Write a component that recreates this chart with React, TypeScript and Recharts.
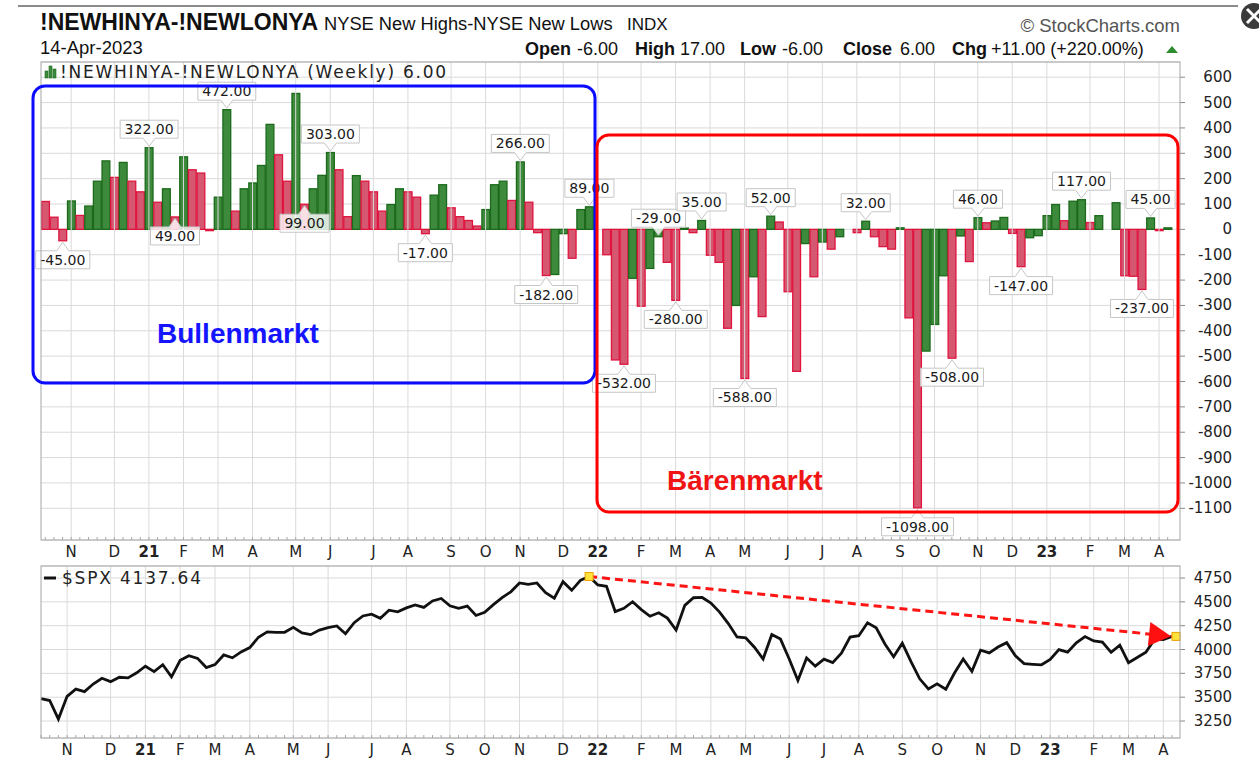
import React from 'react';
import { ComposedChart, Bar, Line, XAxis, YAxis, CartesianGrid, ReferenceLine, LabelList } from 'recharts';

// ---------- DATA ----------
const START = Date.UTC(2020, 9, 16); // first weekly bar (Fri 16-Oct-2020)
const weeks: string[] = Array.from({ length: 131 }, (_, i) =>
  new Date(START + i * 7 * 86400000).toISOString().slice(0, 10)
);

// NYSE New Highs - New Lows, weekly
const netHighsLows = [
  110, 48, -45, 112, 55, 92, 190, 270, 205, 264, 190, 148, 322, 107, 160, 49, 286, 235, 222, -5,
  127, 472, 72, 160, 183, 252, 414, 294, 190, 536, 99, 160, 213, 303, 235, 50, 212, 190, 148, 72,
  98, 160, 148, 127, -17, 135, 176, 85, 50, 35, 13, 78, 176, 190, 114, 266, 107, -13, -182, -178,
  -17, -114, 78, 89, 0, -100, -515, -532, -193, -303, -154, -29, -130, -280, 5, -13, 35, -102, -130, -390,
  -300, -588, -187, -344, 52, 29, -246, -560, -56, -187, -50, -78, -29, 0, -13, 32, -29, -68, -78, 6,
  -349, -1098, -480, -375, -183, -508, -26, -127, 46, 26, 33, 47, -16, -147, -33, -25, 54, 98, 34, 111,
  117, 27, 54, 0, 105, -183, -185, -237, 45, -5, 6,
];

// S&P 500 weekly close
const spx = [
  3484, 3465, 3270, 3509, 3585, 3558, 3638, 3699, 3663, 3709, 3703, 3756,
  3825, 3768, 3841, 3714, 3887, 3935, 3907, 3811, 3842, 3943, 3913, 3975, 4020, 4129, 4185, 4180, 4181,
  4233, 4174, 4156, 4204, 4230, 4247, 4166, 4281, 4352, 4370, 4327, 4412, 4395, 4437, 4468, 4442, 4509,
  4535, 4459, 4433, 4455, 4357, 4391, 4471, 4545, 4605, 4698, 4683, 4698, 4595, 4538, 4712, 4621, 4726, 4766,
  4677, 4663, 4398, 4432, 4501, 4419, 4349, 4385, 4329, 4204, 4463, 4543, 4546, 4488, 4393, 4272, 4132,
  4123, 4024, 3901, 4158, 4109, 3901, 3675, 3912, 3825, 3899, 3863, 3962, 4130, 4145, 4280, 4228, 4058,
  3924, 4067, 3873, 3693, 3586, 3640, 3583, 3753, 3901, 3771, 3993, 3965, 4026, 4072, 3934, 3852, 3845, 3840,
  3895, 3999, 3973, 4071, 4136, 4090, 4079, 3970, 4046, 3862, 3917, 3971, 4109, 4105, 4137.64,
];

const monthTickIdx = [3, 8, 12, 16, 20, 24, 29, 33, 38, 42, 47, 51, 55, 60, 64, 69, 73, 77, 81, 86, 90, 94, 99, 103, 108, 112, 116, 121, 125, 129];
const monthTickLabels = ['N', 'D', '21', 'F', 'M', 'A', 'M', 'J', 'J', 'A', 'S', 'O', 'N', 'D', '22', 'F', 'M', 'A', 'M', 'J', 'J', 'A', 'S', 'O', 'N', 'D', '23', 'F', 'M', 'A'];

const labelAboveIdx = [12, 21, 33, 55, 63, 71, 76, 84, 95, 108, 120, 128];
const labelBelowIdx = [2, 15, 30, 44, 58, 67, 73, 81, 101, 105, 113, 127];

const topTicks = [600, 500, 400, 300, 200, 100, 0, -100, -200, -300, -400, -500, -600, -700, -800, -900, -1000, -1100];
const spxTicks = [4750, 4500, 4250, 4000, 3750, 3500, 3250];
const trendIdx = [63, 130];

const topData = weeks.map((d, i) => ({
  d,
  v: netHighsLows[i],
  up: i > 0 && netHighsLows[i] > netHighsLows[i - 1],
  lab: labelAboveIdx.includes(i) ? `above|${netHighsLows[i]}` : labelBelowIdx.includes(i) ? `below|${netHighsLows[i]}` : null,
}));
const spxData = weeks.map((d, i) => ({ d, spx: spx[i], trend: trendIdx.includes(i) ? spx[i] : null }));

// ---------- STYLE / LAYOUT ----------
const W = 1259;
const PLOT_L = 41;
const PLOT_R = 1180;
const TOP_T = 62;
const TOP_B = 540;
const BOT_DIV = 544;
const BOT_T = 566;
const BOT_B = 738;
const YW = 70;
const XH = 24;
const LIB = "'Liberation Sans', Arial, sans-serif";
const DJV = "'DejaVu Sans', Verdana, sans-serif";
const GREEN_F = '#3d8a3d';
const GREEN_S = '#1b6a1b';
const RED_F = '#d65770';
const RED_S = '#e0143f';
const GRID = '#dadada';

const BarShape = (p: any) => {
  const { x, y, width, height, payload } = p;
  if (!payload || !payload.v) return <g />;
  const top = Math.min(y, y + height);
  const h = Math.max(Math.abs(height), 1);
  const up = payload.up;
  return (
    <rect x={x + 0.6} y={top} width={width - 1.2} height={h}
      fill={up ? GREEN_F : RED_F} stroke={up ? GREEN_S : RED_S} strokeWidth={1.3} />
  );
};

const ValueLabel = (p: any) => {
  if (!p.value) return null;
  const vb = p.viewBox || {};
  const x = p.x ?? vb.x;
  const y = p.y ?? vb.y;
  const width = p.width ?? vb.width;
  const height = p.height ?? vb.height;
  const [pos, vs] = String(p.value).split('|');
  const v = Number(vs);
  const cx = x + width / 2;
  const end = v >= 0 ? Math.min(y, y + height) : Math.max(y, y + height);
  const text = v.toFixed(2);
  let tw = 0;
  for (const ch of text) tw += ch === '.' ? 4.45 : ch === '-' ? 5.05 : 8.9;
  const bw = tw + 9;
  const bh = 18;
  const l = cx - bw / 2;
  const r = cx + bw / 2;
  let d: string;
  let ty: number;
  if (pos === 'above') {
    const tip = end - 1.5;
    const bb = end - 9.5;
    const bt = bb - bh;
    d = `M${l},${bt} H${r} V${bb} H${cx + 6} L${cx},${tip} L${cx - 6},${bb} H${l} Z`;
    ty = bt + 14;
  } else {
    const tip = end + 1.5;
    const bt = end + 10;
    const bb = bt + bh;
    d = `M${l},${bt} H${cx - 6} L${cx},${tip} L${cx + 6},${bt} H${r} V${bb} H${l} Z`;
    ty = bt + 14;
  }
  return (
    <g>
      <path d={d} fill="rgba(255,255,255,0.82)" stroke="#c6c6c6" strokeWidth={1} />
      <text x={cx} y={ty} textAnchor="middle" fontFamily={DJV} fontSize={14} fill="#1a1a1a">{text}</text>
    </g>
  );
};

const makeXTick = (baseY: number) => (p: any) => {
  const i = weeks.indexOf(p.payload.value);
  const k = monthTickIdx.indexOf(i);
  const lbl = k >= 0 ? monthTickLabels[k] : null;
  return (
    <g>
      <line x1={p.x} x2={p.x} y1={baseY - 3} y2={baseY} stroke="#a8a8a8" strokeWidth={1} />
      {lbl && (
        <text x={p.x} y={baseY + 17} textAnchor="middle" fontFamily={DJV} fontSize={15}
          fontWeight={lbl.length === 2 ? 700 : 400} fill="#222">{lbl}</text>
      )}
    </g>
  );
};

const YTick = (p: any) => (
  <g>
    <line x1={PLOT_R} x2={PLOT_R + 5} y1={p.y} y2={p.y} stroke="#888" strokeWidth={1} />
    <text x={1232} y={p.y + 5} textAnchor="end" fontFamily={DJV} fontSize={15} fill="#222">{p.payload.value}</text>
  </g>
);

const TrendDot = (p: any) => {
  const { cx, cy, index, payload } = p;
  if (cx == null || cy == null || !payload || payload.trend == null) return <g key={`td${index}`} />;
  const isEnd = index === weeks.length - 1;
  return (
    <g key={`td${index}`}>
      {isEnd && (
        <polygon points={`${cx - 1},${cy} ${cx - 23},${cy - 12} ${cx - 23},${cy + 12}`} fill="#ff1010"
          transform={`rotate(6 ${cx} ${cy})`} />
      )}
      <rect x={cx - 4 + (isEnd ? 4 : 0)} y={cy - 4} width={8} height={8} fill="#ffe23a" stroke="#f0a000" strokeWidth={1} />
    </g>
  );
};

const Overlay = () => (
  <svg width={W} height={760} style={{ position: 'absolute', left: 0, top: 0, pointerEvents: 'none' }}>
    <line x1={18} x2={1238} y1={6} y2={6} stroke="#8c8c8c" strokeWidth={2} />
    <circle cx={1254} cy={16} r={13} fill="#3a3a3a" />
    <path d="M1247,9 L1261,23 M1261,9 L1247,23" stroke="#fff" strokeWidth={3} />
    <text x={40} y={30} fontFamily={LIB} fontWeight={700} fontSize={23} fill="#111">!NEWHINYA-!NEWLONYA</text>
    <text x={324} y={30} fontFamily={LIB} fontSize={18.3} fill="#111">NYSE New Highs-NYSE New Lows</text>
    <text x={627} y={30} fontFamily={LIB} fontSize={17} fill="#111">INDX</text>
    <text x={1180} y={32} textAnchor="end" fontFamily={LIB} fontSize={18.5} fill="#555">© StockCharts.com</text>
    <text x={40} y={54} fontFamily={LIB} fontSize={18.5} fill="#111">14-Apr-2023</text>
    <g fontFamily={LIB} fontSize={18} fill="#111">
      <text x={525} y={55} fontWeight={700}>Open</text>
      <text x={577} y={55}>-6.00</text>
      <text x={635} y={55} fontWeight={700}>High</text>
      <text x={680} y={55}>17.00</text>
      <text x={740} y={55} fontWeight={700}>Low</text>
      <text x={782} y={55}>-6.00</text>
      <text x={843} y={55} fontWeight={700}>Close</text>
      <text x={900} y={55}>6.00</text>
      <text x={952} y={55} fontWeight={700}>Chg</text>
      <text x={991} y={55}>+11.00 (+220.00%)</text>
    </g>
    <polygon points="1166,53 1178,53 1172,46" fill="#2e8b2e" />
    {/* panel frames */}
    <rect x={PLOT_L} y={TOP_T} width={PLOT_R - PLOT_L} height={TOP_B - TOP_T} fill="none" stroke="#a6a6a6" strokeWidth={1} />
    <rect x={PLOT_L} y={BOT_T} width={PLOT_R - PLOT_L} height={BOT_B - BOT_T} fill="none" stroke="#a6a6a6" strokeWidth={1} />
    {/* legends */}
    <rect x={45} y={71} width={3} height={7} fill={GREEN_F} stroke={GREEN_S} strokeWidth={0.6} />
    <rect x={49} y={66} width={3} height={12} fill={GREEN_F} stroke={GREEN_S} strokeWidth={0.6} />
    <rect x={53} y={69} width={3} height={9} fill={GREEN_F} stroke={GREEN_S} strokeWidth={0.6} />
    <text x={60} y={78} fontFamily={DJV} fontSize={17} letterSpacing={1.75} fill="#222">!NEWHINYA-!NEWLONYA (Weekly) 6.00</text>
    <line x1={44} x2={56} y1={578} y2={578} stroke="#111" strokeWidth={3} />
    <text x={62} y={584} fontFamily={DJV} fontSize={17} letterSpacing={1.8} fill="#222">$SPX 4137.64</text>
    {/* annotation boxes */}
    <rect x={33} y={86} width={562} height={297} rx={12} fill="none" stroke="#0b0bff" strokeWidth={3} />
    <rect x={597} y={135} width={581} height={377} rx={12} fill="none" stroke="#ff0000" strokeWidth={3} />
    <text x={157} y={343} fontFamily={LIB} fontWeight={700} fontSize={28} fill="#1414ff">Bullenmarkt</text>
    <text x={667} y={490} fontFamily={LIB} fontWeight={700} fontSize={28} fill="#f01414">Bärenmarkt</text>
  </svg>
);

export default function App() {
  return (
    <div style={{ position: 'absolute', left: 0, top: 0, width: W, height: 760, background: '#fff' }}>
      <div style={{ position: 'absolute', left: 0, top: 0 }}>
        <ComposedChart width={W} height={TOP_B + XH} data={topData} barCategoryGap={0} barGap={0}
          margin={{ top: TOP_T, right: W - PLOT_R - YW, bottom: 0, left: PLOT_L }}>
          <CartesianGrid vertical={false} stroke={GRID} />
          {monthTickIdx.map((i) => (
            <ReferenceLine key={`m${i}`} x={weeks[i]} stroke={GRID} strokeWidth={1} />
          ))}
          <XAxis dataKey="d" interval={0} tickLine={false} axisLine={false} tickSize={0} tickMargin={0}
            height={XH} padding={{ left: 0, right: 8 }} tick={makeXTick(TOP_B)} />
          <YAxis orientation="right" width={YW} type="number" domain={[-1225, 660]} ticks={topTicks}
            allowDataOverflow axisLine={false} tickLine={false} tick={YTick} interval={0} />
          <Bar dataKey="v" isAnimationActive={false} shape={BarShape}>
            <LabelList dataKey="lab" content={ValueLabel} />
          </Bar>
        </ComposedChart>
      </div>
      <div style={{ position: 'absolute', left: 0, top: BOT_DIV }}>
        <ComposedChart width={W} height={BOT_B - BOT_DIV + XH - 2} data={spxData}
          margin={{ top: BOT_T - BOT_DIV, right: W - PLOT_R - YW, bottom: 0, left: PLOT_L }}>
          <CartesianGrid vertical={false} stroke={GRID} />
          {monthTickIdx.map((i) => (
            <ReferenceLine key={`bm${i}`} x={weeks[i]} stroke={GRID} strokeWidth={1} />
          ))}
          <XAxis dataKey="d" interval={0} tickLine={false} axisLine={false} tickSize={0} tickMargin={0}
            height={XH - 2} padding={{ left: 0, right: 8 }} tick={makeXTick(BOT_B - BOT_DIV)} />
          <YAxis orientation="right" width={YW} type="number" domain={[3072, 4876]} ticks={spxTicks}
            allowDataOverflow axisLine={false} tickLine={false} tick={YTick} interval={0} />
          <Line dataKey="spx" type="linear" stroke="#111" strokeWidth={2.8} dot={false} isAnimationActive={false} />
          <Line dataKey="trend" type="linear" connectNulls stroke="#ff1414" strokeWidth={3}
            strokeDasharray="8 5" dot={TrendDot} activeDot={false} isAnimationActive={false} />
        </ComposedChart>
      </div>
      <Overlay />
    </div>
  );
}
